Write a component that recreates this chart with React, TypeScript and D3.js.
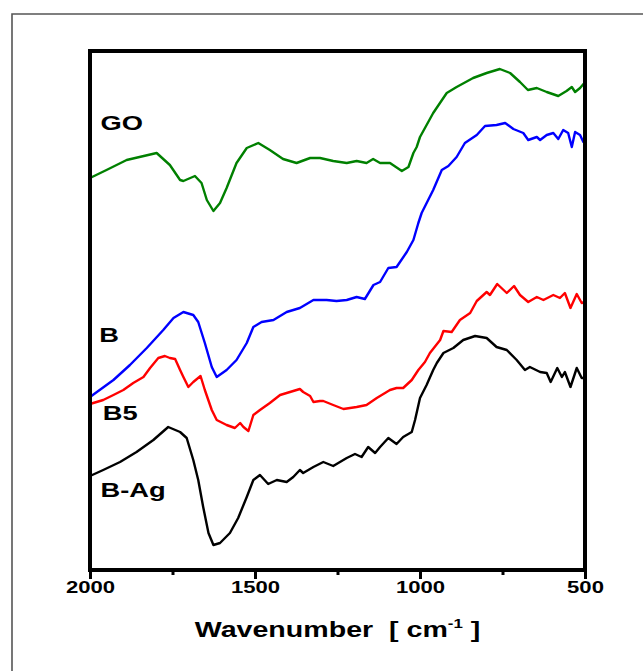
import { useRef, useEffect } from "react";
import { select, scaleLinear, line, axisBottom } from "d3";

// FTIR spectra, transmittance in arbitrary units
const goWavenumber = [2000, 1950, 1889, 1798, 1758, 1727, 1717, 1682, 1662, 1646, 1626, 1606, 1586, 1556, 1525, 1490, 1455, 1415, 1374, 1333, 1303, 1263, 1222, 1192, 1162, 1142, 1121, 1091, 1055, 1035, 1020, 1010, 1000, 960, 919, 889, 839, 798, 758, 727, 697, 673, 646, 616, 581, 556, 540, 530, 515, 502, 500];
const goSignal = [392, 400, 410, 417, 405, 390, 389, 394, 387, 370, 359, 367, 382, 407, 422, 427, 420, 411, 407, 412, 412, 409, 407, 409, 407, 411, 407, 407, 399, 403, 417, 423, 433, 457, 477, 483, 492, 497, 501, 497, 488, 480, 482, 478, 474, 479, 483, 478, 482, 487, 482];

const bWavenumber = [2000, 1929, 1879, 1828, 1778, 1747, 1717, 1687, 1672, 1652, 1631, 1616, 1586, 1556, 1525, 1505, 1480, 1444, 1404, 1364, 1323, 1283, 1253, 1222, 1192, 1167, 1141, 1121, 1096, 1071, 1040, 1020, 1005, 995, 960, 934, 914, 889, 864, 828, 803, 768, 742, 717, 687, 672, 646, 636, 616, 596, 581, 566, 551, 540, 530, 515, 505, 500];
const bSignal = [173, 190, 205, 222, 240, 252, 258, 255, 248, 227, 203, 193, 200, 210, 227, 243, 248, 250, 258, 262, 270, 270, 269, 270, 273, 271, 285, 288, 302, 303, 318, 330, 347, 357, 380, 400, 404, 413, 427, 435, 444, 445, 447, 441, 437, 430, 433, 430, 435, 437, 431, 440, 437, 423, 438, 435, 428, 429];

const b5Wavenumber = [2000, 1960, 1929, 1899, 1869, 1838, 1818, 1793, 1773, 1758, 1742, 1727, 1717, 1702, 1687, 1665, 1652, 1631, 1616, 1586, 1561, 1545, 1535, 1520, 1505, 1485, 1455, 1424, 1394, 1364, 1354, 1333, 1323, 1303, 1293, 1263, 1232, 1192, 1162, 1131, 1101, 1091, 1071, 1051, 1025, 1005, 985, 970, 939, 929, 904, 879, 848, 828, 798, 788, 766, 737, 715, 697, 672, 646, 626, 596, 576, 561, 544, 525, 510, 500];
const b5Signal = [166, 170, 175, 180, 187, 193, 202, 212, 214, 212, 211, 200, 193, 183, 188, 194, 180, 160, 150, 145, 142, 147, 143, 139, 155, 160, 167, 175, 178, 181, 178, 174, 168, 169, 169, 165, 161, 163, 165, 172, 178, 180, 182, 182, 190, 200, 208, 217, 230, 239, 238, 250, 257, 269, 278, 275, 286, 277, 284, 275, 268, 273, 270, 275, 272, 277, 262, 276, 267, 268];

const bAgWavenumber = [2000, 1960, 1909, 1859, 1808, 1763, 1727, 1707, 1687, 1672, 1657, 1641, 1626, 1606, 1576, 1551, 1525, 1505, 1485, 1460, 1434, 1404, 1384, 1364, 1354, 1323, 1293, 1263, 1222, 1197, 1177, 1157, 1136, 1121, 1096, 1071, 1051, 1025, 1015, 1000, 980, 960, 949, 929, 899, 869, 833, 798, 768, 737, 707, 682, 667, 636, 616, 604, 584, 570, 561, 544, 525, 510, 500];
const bAgSignal = [94, 100, 108, 118, 130, 143, 138, 132, 110, 90, 63, 37, 25, 27, 37, 52, 73, 90, 95, 86, 90, 88, 93, 100, 97, 103, 108, 104, 112, 116, 113, 123, 117, 123, 132, 126, 133, 138, 150, 172, 185, 200, 207, 217, 222, 230, 234, 232, 223, 220, 210, 200, 203, 198, 197, 188, 202, 193, 198, 183, 202, 192, 192];

const seriesNames = ["GO", "B", "B5", "B-Ag"];
const majorTicks = [2000, 1500, 1000, 500];
const minorTicks = [1750, 1250, 750];

export default function App() {
  const svgRef = useRef<SVGSVGElement>(null);

  useEffect(() => {
    const svg = select(svgRef.current);
    svg.selectAll("*").remove();

    const left = 90, right = 585, top = 51, bottom = 570;
    const font = "'Liberation Sans', Arial, sans-serif";

    const xScale = scaleLinear().domain([2000, 500]).range([left, right]);
    const yScale = scaleLinear().domain([0, 519]).range([bottom, top]);

    // outer page frame (only top and left edges visible)
    svg.append("path")
      .attr("d", "M12,680 L12,14 L660,14")
      .attr("fill", "none")
      .attr("stroke", "#555")
      .attr("stroke-width", 1.6);

    const series = [
      { name: seriesNames[0], wn: goWavenumber, t: goSignal, color: "#008000", labelWn: 1968, labelT: 440 },
      { name: seriesNames[1], wn: bWavenumber, t: bSignal, color: "#0000ff", labelWn: 1972, labelT: 228 },
      { name: seriesNames[2], wn: b5Wavenumber, t: b5Signal, color: "#ff0000", labelWn: 1961, labelT: 150 },
      { name: seriesNames[3], wn: bAgWavenumber, t: bAgSignal, color: "#000000", labelWn: 1968, labelT: 73 },
    ];

    const myLine = line<[number, number]>()
      .x((d) => xScale(d[0]))
      .y((d) => yScale(d[1]));

    series.forEach((s) => {
      const pts = s.wn.map((w, i) => [w, s.t[i]] as [number, number]);
      svg.append("path")
        .attr("d", myLine(pts))
        .attr("fill", "none")
        .attr("stroke", s.color)
        .attr("stroke-width", 2.4)
        .attr("stroke-linejoin", "round");

      svg.append("text")
        .attr("transform", `translate(${xScale(s.labelWn)},${yScale(s.labelT)}) scale(1.3,1)`)
        .attr("font-family", font)
        .attr("font-weight", "bold")
        .attr("font-size", 21)
        .attr("fill", "#000")
        .text(s.name);
    });

    // bottom axis: major ticks with labels
    const major = svg.append("g")
      .attr("transform", `translate(0,${bottom})`)
      .call(axisBottom(xScale).tickValues(majorTicks).tickSize(9).tickFormat((d) => String(d)));
    major.select(".domain").remove();
    major.selectAll("line").attr("stroke", "#000").attr("stroke-width", 3);
    major.selectAll("text")
      .attr("y", 23)
      .attr("dy", 0)
      .attr("transform", "scale(1.3,1)")
      .attr("font-family", font)
      .attr("font-weight", "bold")
      .attr("font-size", 17)
      .attr("fill", "#000");

    const minor = svg.append("g")
      .attr("transform", `translate(0,${bottom})`)
      .call(axisBottom(xScale).tickValues(minorTicks).tickSize(5).tickFormat(() => ""));
    minor.select(".domain").remove();
    minor.selectAll("line").attr("stroke", "#000").attr("stroke-width", 3);

    // plot frame
    svg.append("rect")
      .attr("x", left)
      .attr("y", top)
      .attr("width", right - left)
      .attr("height", bottom - top)
      .attr("fill", "none")
      .attr("stroke", "#000")
      .attr("stroke-width", 4);

    // x axis title
    const title = svg.append("text")
      .attr("transform", `translate(${(left + right) / 2},637) scale(1.3,1)`)
      .attr("text-anchor", "middle")
      .attr("font-family", font)
      .attr("font-weight", "bold")
      .attr("font-size", 22)
      .attr("fill", "#000");
    title.append("tspan").text("Wavenumber\u00a0\u00a0[\u00a0cm");
    title.append("tspan").attr("font-size", 13).attr("dy", -9).text("-1");
    title.append("tspan").attr("dy", 9).text("\u00a0]");
  }, []);

  return (
    <svg
      ref={svgRef}
      width={643}
      height={671}
      style={{ position: "absolute", left: 0, top: 0, background: "#fff" }}
    />
  );
}
